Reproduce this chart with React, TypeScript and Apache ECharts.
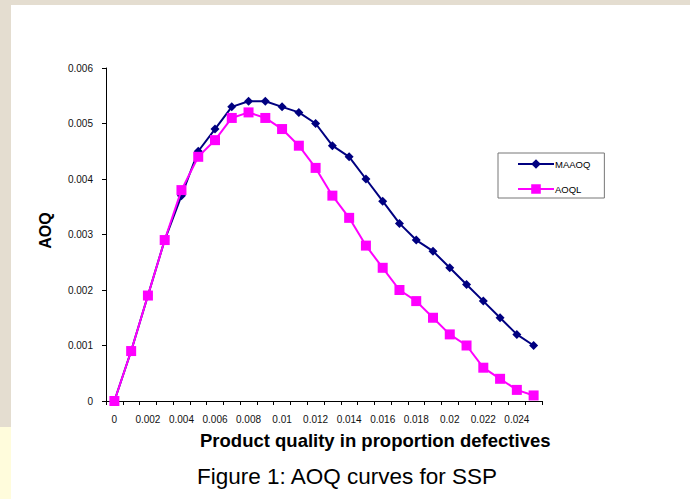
import React, { useEffect, useRef } from "react";
import * as echarts from "echarts";

const categories: string[] = [
  "0", "0.001", "0.002", "0.003", "0.004", "0.005", "0.006", "0.007", "0.008", "0.009",
  "0.01", "0.011", "0.012", "0.013", "0.014", "0.015", "0.016", "0.017", "0.018", "0.019",
  "0.02", "0.021", "0.022", "0.023", "0.024", "0.025",
];
const maaoq: number[] = [
  0, 0.0009, 0.0019, 0.0029, 0.0037, 0.0045, 0.0049, 0.0053, 0.0054, 0.0054,
  0.0053, 0.0052, 0.005, 0.0046, 0.0044, 0.004, 0.0036, 0.0032, 0.0029, 0.0027,
  0.0024, 0.0021, 0.0018, 0.0015, 0.0012, 0.001,
];
const aoql: number[] = [
  0, 0.0009, 0.0019, 0.0029, 0.0038, 0.0044, 0.0047, 0.0051, 0.0052, 0.0051,
  0.0049, 0.0046, 0.0042, 0.0037, 0.0033, 0.0028, 0.0024, 0.002, 0.0018, 0.0015,
  0.0012, 0.001, 0.0006, 0.0004, 0.0002, 0.0001,
];
const seriesNames: string[] = ["MAAOQ", "AOQL"];
const xTitle = "Product quality in proportion defectives";
const yTitle = "AOQ";
const caption = "Figure 1: AOQ curves for SSP";

export default function App() {
  const ref = useRef<HTMLDivElement>(null);
  useEffect(() => {
    if (!ref.current) return;
    const chart = echarts.init(ref.current, null, { renderer: "svg" });
    const font = "Arial, 'Liberation Sans', sans-serif";
    chart.setOption({
      animation: false,
      backgroundColor: "#e4ddd0",
      graphic: [
        { type: "rect", z: -10, silent: true, shape: { x: 0, y: 427, width: 11, height: 72 }, style: { fill: "#fffcdc" } },
        { type: "rect", z: -10, silent: true, shape: { x: 11, y: 5, width: 679, height: 494 }, style: { fill: "#ffffff" } },
        {
          type: "text", left: 200, top: 431,
          style: { text: xTitle, font: `bold 18.5px ${font}`, fill: "#000" },
        },
        {
          type: "text", left: 197, top: 465,
          style: { text: caption, font: `22.5px ${font}`, fill: "#000" },
        },
      ],
      grid: { left: 106, right: 148, top: 68, bottom: 98 },
      legend: {
        orient: "vertical",
        left: 498,
        top: 153,
        padding: [6, 14, 4, 19],
        itemWidth: 36,
        itemHeight: 12,
        itemGap: 15,
        borderColor: "#777",
        borderWidth: 1,
        backgroundColor: "#fff",
        data: seriesNames,
        textStyle: { fontFamily: font, fontSize: 9.5, color: "#000", padding: [0, 0, 0, -4] },
      },
      xAxis: {
        type: "category",
        data: categories,
        boundaryGap: true,
        axisLine: { lineStyle: { color: "#000", width: 1 } },
        axisTick: { show: true, interval: 0, length: 4, lineStyle: { color: "#000" } },
        axisLabel: { interval: 1, fontFamily: font, fontSize: 10, color: "#111", margin: 13 },
        splitLine: { show: false },
      },
      yAxis: {
        type: "value",
        min: 0,
        max: 0.006,
        interval: 0.001,
        name: yTitle,
        nameLocation: "middle",
        nameRotate: 90,
        nameGap: 53,
        nameTextStyle: { fontFamily: font, fontSize: 16, fontWeight: "bold", color: "#000", padding: [0, 0, 0, 8] },
        axisLine: { show: true, lineStyle: { color: "#000", width: 1 } },
        axisTick: { show: true, length: 4, lineStyle: { color: "#000" } },
        axisLabel: {
          fontFamily: font, fontSize: 10, color: "#111", margin: 13,
          formatter: (v: number) => (v === 0 ? "0" : v.toFixed(3)),
        },
        splitLine: { show: false },
      },
      series: [
        {
          name: seriesNames[0],
          type: "line",
          data: maaoq,
          symbol: "diamond",
          symbolSize: 9,
          lineStyle: { color: "#000080", width: 2 },
          itemStyle: { color: "#000080" },
          z: 2,
        },
        {
          name: seriesNames[1],
          type: "line",
          data: aoql,
          symbol: "rect",
          symbolSize: 10,
          lineStyle: { color: "#ff00ff", width: 2 },
          itemStyle: { color: "#ff00ff" },
          z: 3,
        },
      ],
    });
    return () => chart.dispose();
  }, []);
  return (
    <div
      ref={ref}
      style={{ position: "absolute", left: 0, top: 0, width: 690, height: 499 }}
    />
  );
}
